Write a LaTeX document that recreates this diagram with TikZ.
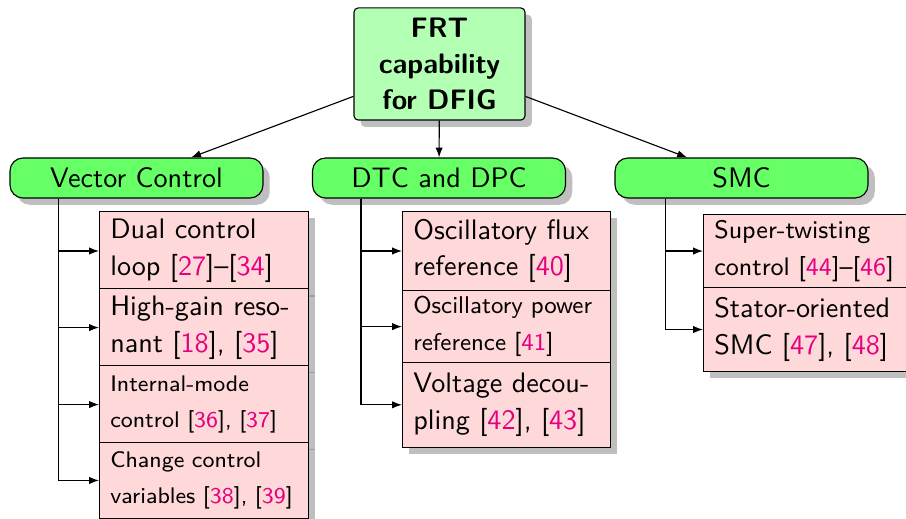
\documentclass[tikz,border=0pt]{standalone}
\usepackage{xcolor}
\usepackage{tikz}
\usetikzlibrary{arrows.meta,positioning,shadows}
\definecolor{citepink}{HTML}{E6007E}
\definecolor{rootgreen}{HTML}{B3FFB3}
\definecolor{catgreen}{HTML}{66FF66}
\definecolor{leafpink}{HTML}{FFD9D9}
\newcommand{\rf}[1]{[\textcolor{citepink}{#1}]}

\begin{document}
\begin{tikzpicture}[x=0.355pt,y=-0.355pt,font=\sffamily,
  withshadow/.style={drop shadow={shadow xshift=2.4pt,shadow yshift=-2.4pt}},
  rootbox/.style={draw,rounded corners=1.5pt,fill=rootgreen,withshadow,align=center,
    minimum width=60.7pt,minimum height=39.8pt,inner sep=0pt,
    font=\sffamily\bfseries\fontsize{10}{12.8}\selectfont},
  catbox/.style={draw,rounded corners=4.6pt,fill=catgreen,withshadow,
    minimum width=89.8pt,minimum height=14.2pt,inner sep=0pt,font=\sffamily\fontsize{10}{12}\selectfont},
  leafbox/.style={draw,fill=leafpink,withshadow,anchor=north west,align=left,
    inner xsep=3.8pt,inner ysep=0pt},
  link/.style={-{Latex[length=3.5pt,width=2.6pt]}}]
\useasboundingbox (0,0) rectangle (906,519);

\node[rootbox] (frt) at (439.5,64) {FRT\\capability\\for DFIG};
\node[catbox] (vc) at (136.5,178) {Vector Control};
\node[catbox] (dtc) at (439,178) {DTC and DPC};
\node[catbox] (smc) at (741.5,178) {SMC};

\draw[link] (frt) -- (vc);
\draw[link] (frt) -- (dtc);
\draw[link] (frt) -- (smc);

\coordinate (vct) at ([xshift=17.4pt]vc.south west);
\coordinate (dtct) at ([xshift=17.4pt]dtc.south west);
\coordinate (smct) at ([xshift=18pt]smc.south west);

\foreach \i/\y/\h/\s/\t in {1/211/28pt/10/{Dual control\\loop \rf{27}--\rf{34}},
  2/288/27.7pt/10/{High-gain reso-\\nant \rf{18}, \rf{35}},
  3/365/27.7pt/8/{Internal-mode\\control \rf{36}, \rf{37}},
  4/442/26.9pt/8/{Change control\\variables \rf{38}, \rf{39}}}{
  \node[leafbox,text width=66.6pt,minimum height=\h,font=\sffamily\fontsize{\s}{13}\selectfont] (vc\i) at (99,\y) {\t};
  \draw[link] (vct |- vc\i.west) -- (vc\i.west);
}
\draw (vct) -- (vct |- vc4.west);

\foreach \i/\y/\h/\s/\t in {1/211/28pt/10/{Oscillatory flux\\reference \rf{40}},
  2/290/25.6pt/8.6/{Oscillatory power\\reference \rf{41}},
  3/362/30pt/10/{Voltage decou-\\pling \rf{42}, \rf{43}}}{
  \node[leafbox,text width=66.2pt,minimum height=\h,font=\sffamily\fontsize{\s}{13}\selectfont] (dtc\i) at (402,\y) {\t};
  \draw[link] (dtct |- dtc\i.west) -- (dtc\i.west);
}
\draw (dtct) -- (dtct |- dtc3.west);

\foreach \i/\y/\h/\s/\t in {1/214/25.9pt/9/{Super-twisting\\control \rf{44}--\rf{46}},
  2/287/29.8pt/10/{Stator-oriented\\SMC \rf{47}, \rf{48}}}{
  \node[leafbox,text width=64.4pt,minimum height=\h,font=\sffamily\fontsize{\s}{13}\selectfont] (smc\i) at (703,\y) {\t};
  \draw[link] (smct |- smc\i.west) -- (smc\i.west);
}
\draw (smct) -- (smct |- smc2.west);
\end{tikzpicture}
\end{document}
